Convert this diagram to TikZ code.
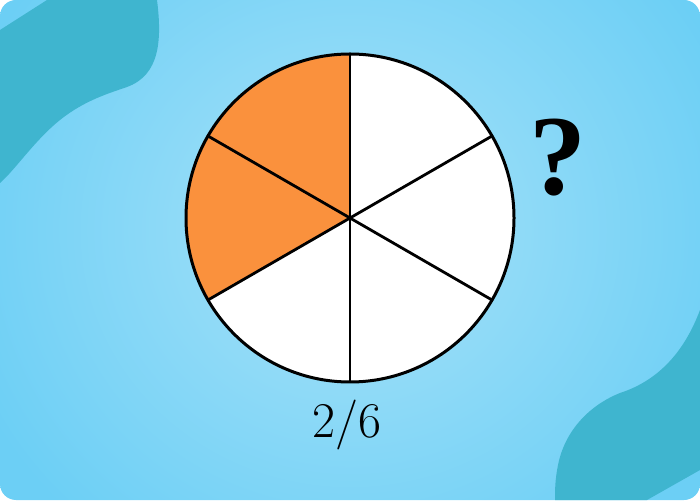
\documentclass[tikz,border=0pt]{standalone}
\usepackage{fontspec}
\newfontfamily\qfont{Liberation Serif}
\definecolor{bgout}{HTML}{6CCFF5}
\definecolor{bgin}{HTML}{A8E2F9}
\definecolor{blob}{HTML}{3FB5CF}
\definecolor{slice}{HTML}{FA913D}
\tikzset{
  rim/.style={draw=black, line width=3pt},
  spoke/.style={draw=black, line width=2.8pt},
  lbl/.style={inner sep=0pt}
}
\begin{document}
\begin{tikzpicture}[x=1pt,y=1pt]
\useasboundingbox (0,0) rectangle (700,500);
\fill[white] (0,0) rectangle (700,500);
\begin{scope}
  \clip[rounded corners=16pt] (0,0) rectangle (700,500);
  \shade[inner color=bgin, outer color=bgout] (-60,-120) rectangle (760,660);
  \fill[blob] (0,470) -- (47,500) -- (157,500)
     .. controls (162,460) and (160,425) .. (127,413)
     .. controls (110,407) and (85,400) .. (60,380)
     .. controls (35,360) and (15,330) .. (0,317) -- cycle;
  \fill[blob] (700,190)
     .. controls (685,150) and (660,120) .. (620,107)
     .. controls (590,95) and (565,70) .. (558,35)
     .. controls (555,20) and (555,10) .. (555,0)
     -- (647,0) -- (700,30) -- cycle;
\end{scope}
\coordinate (c) at (350,282);
\fill[white] (c) circle[radius=164];
\fill[slice] (c) -- ++(90:164) arc[start angle=90, end angle=210, radius=164] -- cycle;
\foreach \a in {90,30,-30,-90,-150,150}{
  \draw[spoke] (c) -- ++(\a:164);
}
\node[rim, circle, minimum size=328pt, inner sep=0pt] (pie) at (c) {};
\node[lbl, anchor=base, font=\qfont\bfseries\fontsize{114}{120}\selectfont] (q) at (558,305) {?};
\node[lbl, anchor=base, font=\fontsize{50}{60}\selectfont] (frac) at (347,63) {2/6};
\end{tikzpicture}
\end{document}
